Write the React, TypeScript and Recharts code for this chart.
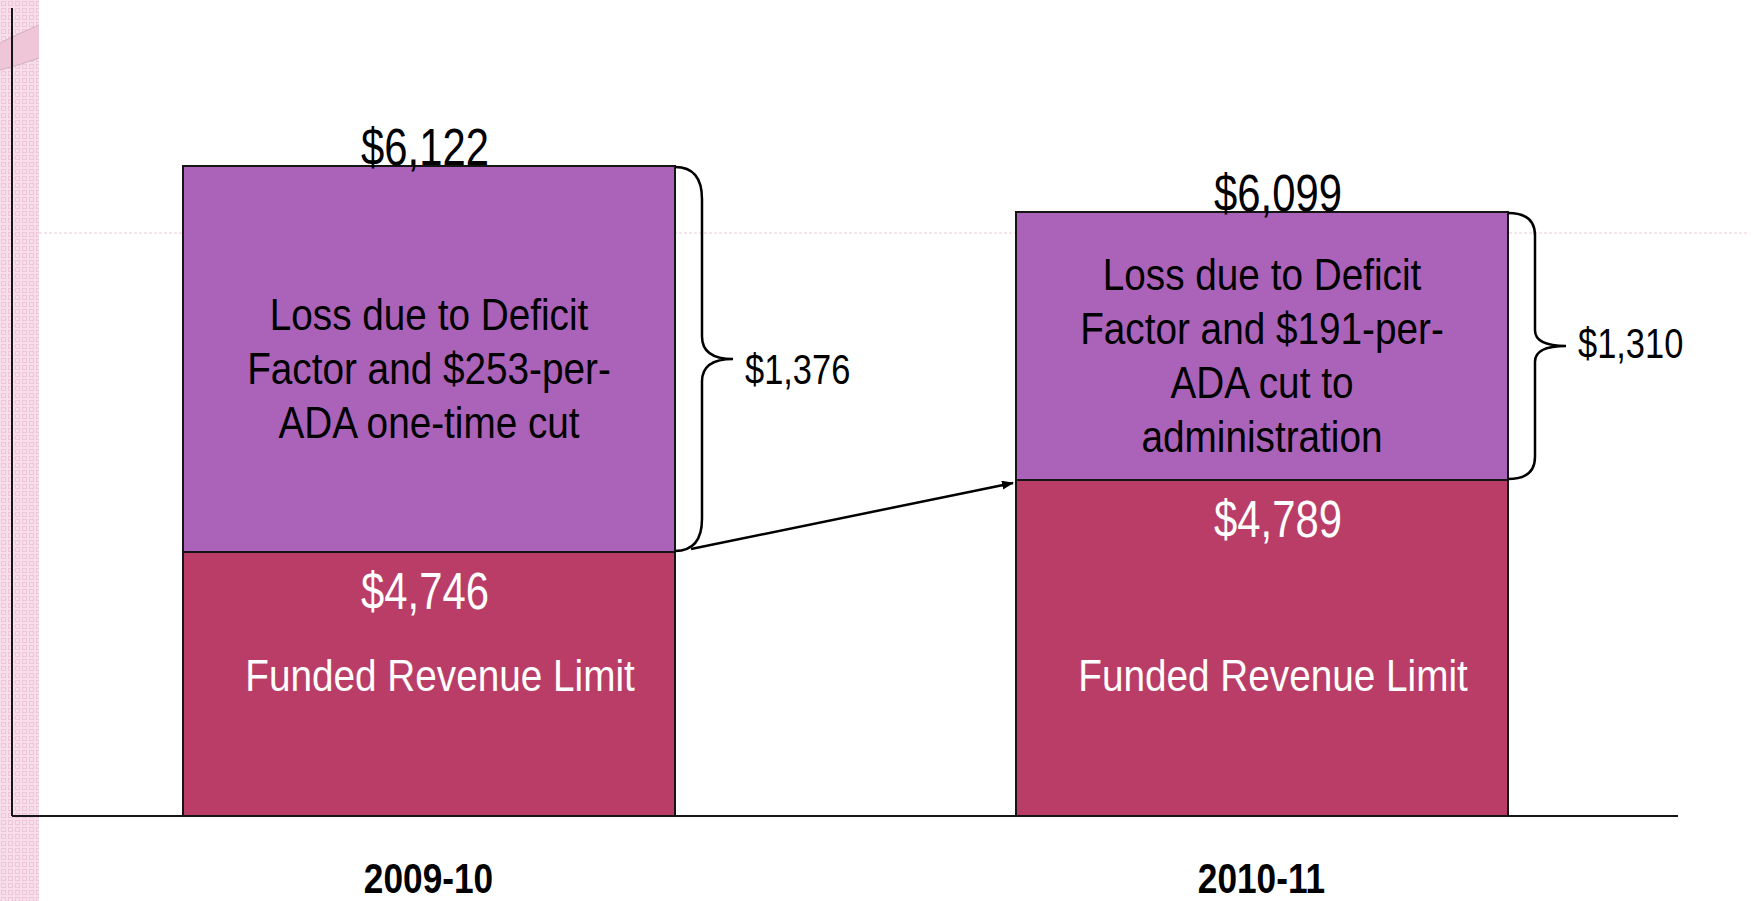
import React from 'react';
import { BarChart, Bar, XAxis, YAxis } from 'recharts';

const categories = ['2009-10', '2010-11'];
const totals = [6122, 6099];
const funded = [4746, 4789];
const loss = [1376, 1310];
const seriesNames = ['Funded Revenue Limit', 'Loss'];
const lossNotes = [
  ['Loss due to Deficit', 'Factor and $253-per-', 'ADA one-time cut'],
  ['Loss due to Deficit', 'Factor and $191-per-', 'ADA cut to', 'administration'],
];
// the slide is not drawn to scale, so these are the segment heights as drawn (axis units)
const fundedDrawn = [264, 336];
const lossDrawn = [386, 268];
const axisMax = 808;

const data = categories.map((name, i) => ({ name, funded: fundedDrawn[i], loss: lossDrawn[i] }));

// no narrow face installed: squeeze Liberation Sans horizontally instead
const FONT = "'Liberation Sans', Arial, sans-serif";
const FUNDED_COLOR = '#BA3D68';
const LOSS_COLOR = '#AB63B9';
const EDGE = '#151515';
const valueNudge = [-4, 16];
const braceLabelDy = [25, 12];

const money = (v: number) => '$' + v.toLocaleString('en-US');
const idx = (p: any) => (typeof p.index === 'number' ? p.index : categories.indexOf(p.payload?.name));

function NText({ x, y, size, fill = '#000', anchor = 'middle', squeeze = 0.82, weight = 'normal', children }: any) {
  return (
    <text
      transform={`translate(${x},${y}) scale(${squeeze},1)`}
      textAnchor={anchor}
      fill={fill}
      fontSize={size}
      fontWeight={weight}
      fontFamily={FONT}
    >
      {children}
    </text>
  );
}

const fundedTops: { right: number; y: number }[] = [];

function FundedShape(p: any) {
  const { x, y, width, height } = p;
  const i = idx(p);
  const cx = x + width / 2;
  fundedTops[i] = { right: x + width, y };
  const prev = i > 0 ? fundedTops[i - 1] : null;
  return (
    <g>
      <rect x={x} y={y} width={width} height={height} fill={FUNDED_COLOR} stroke={EDGE} strokeWidth={2} />
      <NText x={cx + valueNudge[i]} y={y + 57} size={51} fill="#fff">
        {money(funded[i])}
      </NText>
      <NText x={cx + 11} y={y + height - 125} size={44} squeeze={0.88} fill="#fff">
        {seriesNames[0]}
      </NText>
      {prev && (
        <g>
          <defs>
            <marker id="arrowHead" markerWidth="12" markerHeight="9" refX="11" refY="4.5" orient="auto" markerUnits="userSpaceOnUse">
              <path d="M0,0 L12,4.5 L0,9 Z" fill="#000" />
            </marker>
          </defs>
          <line x1={prev.right + 16} y1={prev.y - 3} x2={x - 3} y2={y + 3} stroke="#000" strokeWidth={2.5} markerEnd="url(#arrowHead)" />
        </g>
      )}
    </g>
  );
}

function LossShape(p: any) {
  const { x, y, width, height } = p;
  const i = idx(p);
  const cx = x + width / 2;
  const xr = x + width;
  const y0 = y + 1;
  const y1 = y + height - 1;
  const ym = (y0 + y1) / 2;
  const r = height / 12;
  const rt = r * 0.7;
  const xi = xr + 27;
  const tip = xr + 58;
  const lines = lossNotes[i];
  const lh = 54;
  const first = y + height / 2 - ((lines.length - 1) / 2) * lh + 25;
  const brace = `M${xr},${y0} Q${xi},${y0} ${xi},${y0 + r} L${xi},${ym - rt} Q${xi},${ym} ${tip},${ym} Q${xi},${ym} ${xi},${ym + rt} L${xi},${y1 - r} Q${xi},${y1} ${xr},${y1}`;
  return (
    <g>
      <rect x={x} y={y} width={width} height={height} fill={LOSS_COLOR} stroke={EDGE} strokeWidth={2} />
      {lines.map((t, k) => (
        <NText key={k} x={cx} y={first + k * lh} size={44} squeeze={0.88}>
          {t}
        </NText>
      ))}
      <NText x={cx + valueNudge[i]} y={y - 1} size={51}>
        {money(totals[i])}
      </NText>
      <path d={brace} fill="none" stroke="#000" strokeWidth={2.5} />
      <NText x={xr + 70} y={ym + braceLabelDy[i]} size={42} anchor="start">
        {money(loss[i])}
      </NText>
    </g>
  );
}

function CategoryTick(p: any) {
  const { x, y, payload } = p;
  return (
    <NText x={x} y={y + 69} size={43} weight="bold">
      {payload.value}
    </NText>
  );
}

function Backdrop() {
  return (
    <svg width={1756} height={901} style={{ position: 'absolute', left: 0, top: 0 }}>
      <defs>
        <pattern id="chk" width="7" height="7" patternUnits="userSpaceOnUse">
          <rect width="7" height="7" fill="#F8DEEA" />
          <rect x="1.5" y="1.5" width="4" height="4" fill="none" stroke="#EDC7D8" strokeWidth="1" />
        </pattern>
      </defs>
      <rect x={0} y={0} width={39} height={901} fill="url(#chk)" />
      <path d="M0,43 Q20,33 39,25 L39,58 Q20,65 0,70 Z" fill="#EEC6D8" />
      <path d="M0,43 Q20,33 39,25 M39,58 Q20,65 0,70" fill="none" stroke="#D2AFBE" strokeWidth={1} />
      <line x1={39} y1={233} x2={1747} y2={233} stroke="#EBCBD9" strokeWidth={1} strokeDasharray="3 2" />
    </svg>
  );
}

export default function App() {
  return (
    <div style={{ position: 'absolute', left: 0, top: 0, width: 1756, height: 901, background: '#fff' }}>
      <Backdrop />
      <div style={{ position: 'absolute', left: 0, top: 0 }}>
        <BarChart width={1756} height={901} data={data} margin={{ top: 8, right: 78, bottom: 0, left: 0 }}>
          <XAxis
            dataKey="name"
            axisLine={{ stroke: EDGE, strokeWidth: 2 }}
            tickLine={false}
            height={85}
            tick={CategoryTick}
            interval={0}
          />
          <YAxis
            type="number"
            domain={[0, axisMax]}
            allowDataOverflow
            width={12}
            tick={false}
            tickLine={false}
            axisLine={{ stroke: EDGE, strokeWidth: 2 }}
          />
          <Bar dataKey="funded" stackId="a" barSize={492} fill={FUNDED_COLOR} shape={FundedShape} isAnimationActive={false} />
          <Bar dataKey="loss" stackId="a" barSize={492} fill={LOSS_COLOR} shape={LossShape} isAnimationActive={false} />
        </BarChart>
      </div>
    </div>
  );
}
